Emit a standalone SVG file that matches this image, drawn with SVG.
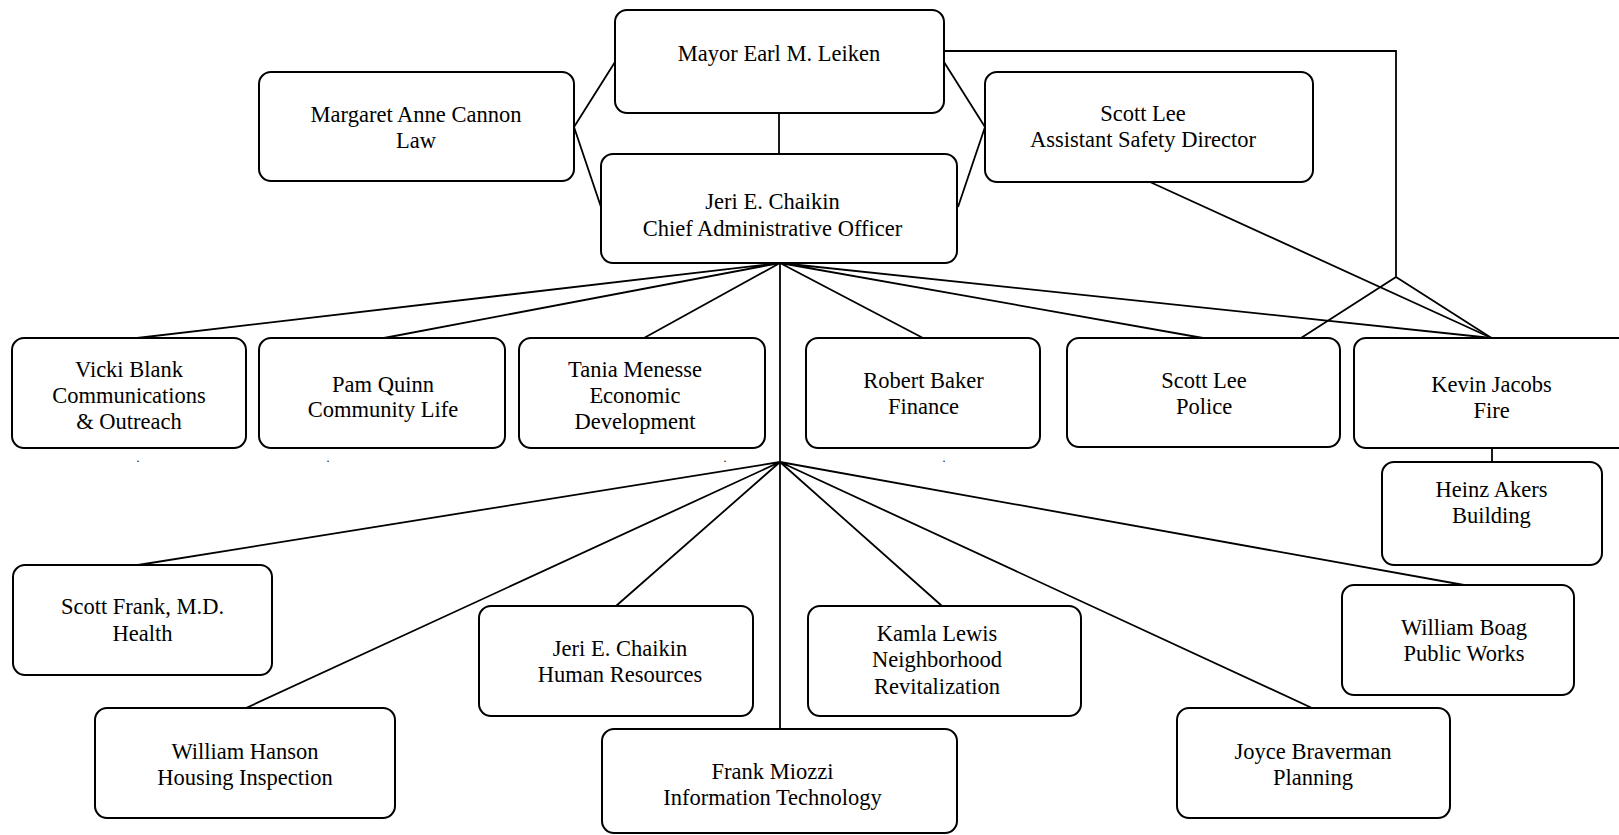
<svg xmlns="http://www.w3.org/2000/svg" width="1619" height="835" viewBox="0 0 1619 835">
<style>
.box{fill:#fff;stroke:#000;stroke-width:2}
.t{font-family:"Liberation Serif","Times New Roman",serif;font-size:22.5px;fill:#000;text-anchor:middle}
.dot{font-family:"Liberation Serif","Times New Roman",serif;font-size:12px;fill:#000;text-anchor:middle}
.ln{fill:none;stroke:#000;stroke-width:1.8;stroke-linejoin:miter}
</style>
<rect width="1619" height="835" fill="#fff"/>
<g id="connectors" class="ln">
<path d="M574,127 L615,62 M574,127 L601,207"/>
<path d="M985,127 L944,62 M985,127 L958,207"/>
<path d="M779,113 L779,154"/>
<path d="M944,51 L1396,51 L1396,277 L1301,338 M1396,277 L1491.5,338"/>
<path d="M1150,182 L1491.5,338"/>
<path d="M780,263 L137,338 M780,263 L384,338 M780,263 L644,338 M780,263 L923,338 M780,263 L1203,338 M780,263 L1491.5,338"/>
<path d="M780,263 L780,729"/>
<path d="M780,462 L138,565 M780,462 L246,708 M780,462 L616,606 M780,462 L942,606 M780,462 L1312,708 M780,462 L1464,585"/>
<path d="M1492,448 L1492,462"/>
</g>
<g id="mayor"><rect class="box" x="615" y="10" width="329" height="103" rx="12"/><text class="t" x="779" y="61">Mayor Earl M. Leiken</text></g>
<g id="law"><rect class="box" x="259" y="72" width="315" height="109" rx="12"/><text class="t" x="416" y="121.5">Margaret Anne Cannon</text><text class="t" x="416" y="147.5">Law</text></g>
<g id="cao"><rect class="box" x="601" y="154" width="356" height="109" rx="12"/><text class="t" x="772.5" y="208.5">Jeri E. Chaikin</text><text class="t" x="772.5" y="235.5">Chief Administrative Officer</text></g>
<g id="asd"><rect class="box" x="985" y="72" width="328" height="110" rx="12"/><text class="t" x="1143" y="121">Scott Lee</text><text class="t" x="1143" y="147">Assistant Safety Director</text></g>
<g id="comm"><rect class="box" x="12" y="338" width="234" height="110" rx="12"/><text class="t" x="129" y="377">Vicki Blank</text><text class="t" x="129" y="403">Communications</text><text class="t" x="129" y="429">&amp; Outreach</text></g>
<g id="community"><rect class="box" x="259" y="338" width="246" height="110" rx="12"/><text class="t" x="383" y="391.5">Pam Quinn</text><text class="t" x="383" y="417">Community Life</text></g>
<g id="econ"><rect class="box" x="519" y="338" width="246" height="110" rx="12"/><text class="t" x="635" y="377">Tania Menesse</text><text class="t" x="635" y="403">Economic</text><text class="t" x="635" y="429">Development</text></g>
<g id="finance"><rect class="box" x="806" y="338" width="234" height="110" rx="12"/><text class="t" x="923.5" y="388">Robert Baker</text><text class="t" x="923.5" y="414">Finance</text></g>
<g id="police"><rect class="box" x="1067" y="338" width="273" height="109" rx="12"/><text class="t" x="1204" y="388">Scott Lee</text><text class="t" x="1204" y="414">Police</text></g>
<g id="fire"><rect class="box" x="1354" y="338" width="276" height="110" rx="12"/><text class="t" x="1491.5" y="392">Kevin Jacobs</text><text class="t" x="1491.5" y="418">Fire</text></g>
<g id="building"><rect class="box" x="1382" y="462" width="220" height="103" rx="12"/><text class="t" x="1491.5" y="497">Heinz Akers</text><text class="t" x="1491.5" y="522.5">Building</text></g>
<g id="dots"><text class="dot" x="138" y="462">.</text><text class="dot" x="328" y="462">.</text><text class="dot" x="725" y="462">.</text><text class="dot" x="944" y="462">.</text></g>
<g id="health"><rect class="box" x="13" y="565" width="259" height="110" rx="12"/><text class="t" x="142.5" y="614">Scott Frank, M.D.</text><text class="t" x="142.5" y="640.5">Health</text></g>
<g id="hr"><rect class="box" x="479" y="606" width="274" height="110" rx="12"/><text class="t" x="620" y="655.5">Jeri E. Chaikin</text><text class="t" x="620" y="682">Human Resources</text></g>
<g id="housing"><rect class="box" x="95" y="708" width="300" height="110" rx="12"/><text class="t" x="245" y="758.5">William Hanson</text><text class="t" x="245" y="785">Housing Inspection</text></g>
<g id="it"><rect class="box" x="602" y="729" width="355" height="104" rx="12"/><text class="t" x="772.5" y="778.5">Frank Miozzi</text><text class="t" x="772.5" y="805">Information Technology</text></g>
<g id="neighborhood"><rect class="box" x="808" y="606" width="273" height="110" rx="12"/><text class="t" x="937" y="641">Kamla Lewis</text><text class="t" x="937" y="667">Neighborhood</text><text class="t" x="937" y="693.5">Revitalization</text></g>
<g id="planning"><rect class="box" x="1177" y="708" width="273" height="110" rx="12"/><text class="t" x="1313" y="758.5">Joyce Braverman</text><text class="t" x="1313" y="785">Planning</text></g>
<g id="publicworks"><rect class="box" x="1342" y="585" width="232" height="110" rx="12"/><text class="t" x="1464" y="635">William Boag</text><text class="t" x="1464" y="660.5">Public Works</text></g>
</svg>
